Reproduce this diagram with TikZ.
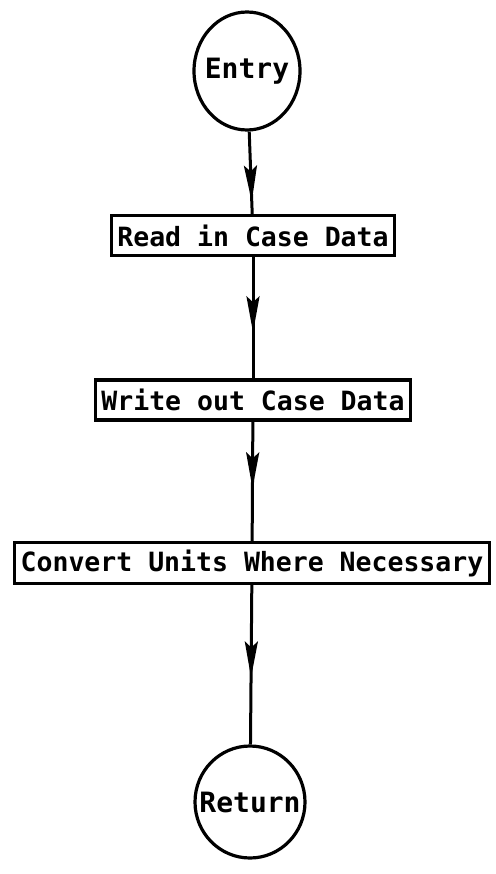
\documentclass[tikz,border=0pt]{standalone}
\usepackage{fontspec}
\newfontfamily\flowfont{DejaVu Sans Mono}
\usetikzlibrary{shapes.geometric,arrows.meta,decorations.markings}

\tikzset{
  terminal/.style={draw, ellipse, line width=3.2pt, inner sep=0pt,
    font=\flowfont\bfseries\fontsize{28}{32}\selectfont},
  stepbox/.style={draw, rectangle, line width=3.2pt, inner xsep=6pt, inner ysep=0pt,
    minimum height=40pt, font=\flowfont\bfseries\fontsize{26.5}{30}\selectfont},
  flow/.style={line width=3pt, postaction={decorate},
    decoration={markings, mark=at position #1 with
      {\arrow{Stealth[length=36pt, width=13pt, inset=6pt]}}}}
}

\begin{document}
\begin{tikzpicture}[x=1pt, y=-1pt]
  \useasboundingbox (0,0) rectangle (495,874);

  % terminals: the label is set in a zero-width box so the outline keeps its size
  \node[terminal, minimum width=106pt, minimum height=118pt] (entry) at (247,71) {\makebox[0pt]{Entry}};
  \node[stepbox] (read)    at (253,235.5) {Read in Case Data};
  \node[stepbox] (write)   at (253,400)   {Write out Case Data};
  \node[stepbox, minimum height=41pt] (convert) at (252,563) {Convert Units Where Necessary};
  \node[terminal, minimum width=110pt, minimum height=112pt] (return) at (250,802) {\makebox[0pt]{Return}};

  \draw[flow=0.85] (entry)   -- (read);
  \draw[flow=0.62] (read)    -- (write);
  \draw[flow=0.56] (write)   -- (convert);
  \draw[flow=0.58] (convert) -- (return);
\end{tikzpicture}
\end{document}
